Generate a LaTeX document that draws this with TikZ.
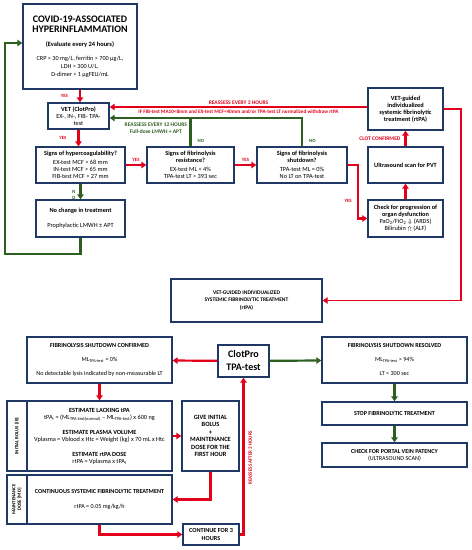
\documentclass[tikz,border=0pt]{standalone}
\usepackage{fontspec}
\setmainfont{Carlito}
\usetikzlibrary{arrows.meta}

\definecolor{navybox}{RGB}{31,56,100}
\definecolor{flowred}{RGB}{226,0,26}
\definecolor{flowgreen}{RGB}{46,95,32}
\newcommand{\fsize}[2]{\fontsize{#1}{#2}\selectfont}

\begin{document}
\begin{tikzpicture}[
  x=1pt, y=-1pt,
  box/.style={
    draw=navybox,
    line width=1.4pt,
    align=center,
    inner sep=1pt,
    font=\fsize{6.3}{7}
  },
  lowbox/.style={box, font=\fsize{6.1}{7}},
  redarrow/.style={draw=flowred, line width=2.2pt, -{Triangle[width=6.5pt,length=5pt]}},
  greenarrow/.style={draw=flowgreen, line width=2.2pt, -{Triangle[width=6.5pt,length=5pt]}},
  greenline/.style={draw=flowgreen, line width=2.2pt},
  redlabel/.style={text=flowred, font=\fsize{4.8}{6}\bfseries, inner sep=1pt},
  greenlabel/.style={text=flowgreen, font=\fsize{4.8}{6}\bfseries, inner sep=1pt}
]
  \useasboundingbox (0,0) rectangle (472,550);

  % upper part
  \node[box, font=\fsize{6.2}{8}, minimum width=114, minimum height=85] (covid) at (80,46.5)
    {\fsize{10}{12}\bfseries COVID-19-ASSOCIATED\\[2pt]
     \fsize{10}{12}\bfseries HYPERINFLAMMATION\\[6pt]
     \fsize{6.5}{8}\bfseries (Evaluate every 24 hours)\\[6pt]
     CRP > 30 mg/L, ferritin > 700 µg/L,\\
     LDH > 300 U/L,\\
     D-dimer > 1 µgFEU/mL};
  \node[box, minimum width=61, minimum height=26] (vet) at (78.5,116)
    {\bfseries VET (ClotPro)\\EX-, IN-, FIB- TPA-\\test};
  \node[box, minimum width=89, minimum height=36] (hyper) at (80.5,165)
    {\bfseries Signs of hypercoagulability?\\[2pt]
     EX-test MCF > 68 mm\\IN-test MCF > 65 mm\\FIB-test MCF > 27 mm};
  \node[box, minimum width=87, minimum height=36] (resist) at (190.5,165)
    {\bfseries Signs of fibrinolysis\\\bfseries resistance?\\[2pt]
     EX-test ML < 4\%\\TPA-test LT > 393 sec};
  \node[box, minimum width=90, minimum height=36] (shut) at (302,165)
    {\bfseries Signs of fibrinolysis\\\bfseries shutdown?\\[2pt]
     TPA-test ML = 0\%\\No LT on TPA-test};
  \node[box, minimum width=89, minimum height=37] (nochange) at (80.5,218.5)
    {\bfseries No change in treatment\\[8pt]Prophylactic LMWH ± APT};
  \node[box, minimum width=75, minimum height=42] (vetguided) at (405.5,109)
    {\bfseries VET-guided\\\bfseries individualized\\\bfseries systemic fibrinolytic\\\bfseries treatment (rtPA)};
  \node[box, minimum width=75, minimum height=36] (ultra) at (405.5,165)
    {\bfseries Ultrasound scan for PVT};
  \node[box, minimum width=75, minimum height=37] (check) at (405.5,218.5)
    {\bfseries Check for progression of\\\bfseries organ dysfunction\\
     PaO\textsubscript{2}/FiO\textsubscript{2} $\Downarrow$ (ARDS)\\Bilirubin $\Uparrow$ (ALF)};
  \node[box, font=\fsize{5.5}{7.5}, minimum width=151, minimum height=43] (bigvet) at (246.5,300.5)
    {\bfseries VET-GUIDED INDIVIDUALIZED\\\bfseries SYSTEMIC FIBRINOLYTIC TREATMENT\\\bfseries (rtPA)};

  \draw[redarrow] (covid.south) -- (covid.south |- vet.north)
    node[redlabel, midway, left=10pt]{YES};
  \coordinate (r3) at ([yshift=2pt]vetguided.west);
  \draw[redarrow, line width=1.8pt] (r3) -- (r3 -| vet.east)
    node[redlabel, midway, above=1pt, font=\fsize{5.5}{6}\bfseries]{REASSESS EVERY 3 HOURS}
    node[redlabel, midway, below=1pt, font=\fsize{5.2}{6}\bfseries]{IF FIB-test MA10<8mm and EX-test MCF<40mm and/or TPA-test LT normalized withdraw rtPA};
  \coordinate (g12) at ([yshift=-2pt]vet.east);
  \draw[greenarrow] (shut.north) |- node[greenlabel, pos=0.1, right=5pt]{NO}
    node[greenlabel, pos=0.88, below=3pt, align=center, font=\fsize{5.5}{7}\bfseries]{REASSESS EVERY 12 HOURS\\Full-dose LMWH + APT} (g12);
  \draw[greenline] (resist.north) -- (resist.north |- g12)
    node[greenlabel, pos=0.2, right=5pt]{NO};
  \draw[redarrow] (vet.south) -- (vet.south |- hyper.north)
    node[redlabel, midway, left=10pt]{YES};
  \draw[redarrow] (hyper) -- (resist) node[redlabel, midway, above=1pt]{YES};
  \draw[redarrow] (resist) -- (shut) node[redlabel, midway, above=1pt]{YES};
  \draw[redarrow] (shut.east) -- ++(10,0) |- node[redlabel, pos=0.34, left=4pt]{YES} (check.west);
  \draw[redarrow] (check) -- (ultra);
  \draw[redarrow] (ultra) -- (vetguided)
    node[redlabel, midway, left=3pt, font=\fsize{5.5}{6}\bfseries]{CLOT CONFIRMED};
  \draw[redarrow, line width=1.8pt] (vetguided.east) -- ++(17,0) |- (bigvet.east);
  \draw[greenarrow] (hyper) -- (nochange)
    node[greenlabel, pos=0.7, left=3pt, align=center]{N\\O};
  \draw[greenarrow] (nochange.south) -- ++(0,16) -| ([xshift=-17pt,yshift=3.5pt]covid.west)
    -- ([yshift=3.5pt]covid.west);

  % lower part
  \node[box, font=\fsize{10}{13}\bfseries, minimum width=51, minimum height=32] (clotpro) at (243.5,361)
    {ClotPro\\TPA-test};
  \node[lowbox, minimum width=145, minimum height=46] (confirmed) at (99.5,360)
    {\bfseries FIBRINOLYSIS SHUTDOWN CONFIRMED\\[7pt]
     ML\textsubscript{TPA-test} = 0\%\\[7pt]
     No detectable lysis indicated by non-measurable LT};
  \node[lowbox, minimum width=145, minimum height=46] (resolved) at (394.5,360)
    {\bfseries FIBRINOLYSIS SHUTDOWN RESOLVED\\[7pt]
     ML\textsubscript{TPA-test} > 94\%\\[7pt]
     LT < 300 sec};
  \node[lowbox, minimum width=145, minimum height=23] (stop) at (394.5,413.5)
    {\bfseries STOP FIBRINOLYTIC TREATMENT};
  \node[lowbox, minimum width=145, minimum height=24] (portal) at (394.5,455)
    {\bfseries CHECK FOR PORTAL VEIN PATENCY\\(ULTRASOUND SCAN)};
  \node[lowbox, font=\fsize{4.8}{5.5}\bfseries, rotate=90, minimum width=70, minimum height=20] (bolusside) at (17,436)
    {INITIAL BOLUS [IB]};
  \node[lowbox, font=\fsize{6.3}{7}, minimum width=145, minimum height=70] (bolus) at (99.5,436)
    {\bfseries ESTIMATE LACKING tPA\\
     tPA\textsubscript{i} = (ML\textsubscript{TPA-test(normal)} -- ML\textsubscript{TPA-test}) x 600 ng\\[8pt]
     \bfseries ESTIMATE PLASMA VOLUME\\
     Vplasma = Vblood x Htc = Weight (kg) x 70 mL x Htc\\[8pt]
     \bfseries ESTIMATE rtPA DOSE\\
     rtPA = Vplasma x tPA\textsubscript{i}};
  \node[lowbox, font=\fsize{6.4}{7.4}\bfseries, minimum width=57, minimum height=70] (give) at (210.5,436)
    {GIVE INITIAL\\BOLUS\\+\\MAINTENANCE\\DOSE FOR THE\\FIRST HOUR};
  \node[lowbox, font=\fsize{4.8}{5.5}\bfseries, rotate=90, minimum width=49, minimum height=20] (maintside) at (17,499.5)
    {MAINTENANCE\\DOSE [MD]};
  \node[lowbox, minimum width=145, minimum height=49] (maint) at (99.5,499.5)
    {\bfseries CONTINUOUS SYSTEMIC FIBRINOLYTIC TREATMENT\\[8pt]rtPA = 0.05 mg/kg/h};
  \node[lowbox, font=\fsize{6.2}{8.5}\bfseries, minimum width=56, minimum height=21] (cont) at (211,534.5)
    {CONTINUE FOR 3\\HOURS};

  \draw[redarrow] (clotpro) -- (confirmed);
  \draw[greenarrow] (clotpro) -- (resolved);
  \draw[greenarrow] (resolved) -- (stop);
  \draw[greenarrow] (stop) -- (portal);
  \draw[redarrow] (confirmed) -- (bolus);
  \draw[redarrow] (bolus) -- (give);
  \draw[redarrow] (give.south) |- (maint.east);
  \draw[redarrow] (maint.south) |- (cont.west);
  \draw[redarrow] (cont.east) -| node[redlabel, pos=0.745, rotate=90, anchor=north, inner sep=4pt, font=\fsize{5}{6}\bfseries]{REASSESS AFTER 3 HOURS} (clotpro.south);
\end{tikzpicture}
\end{document}
